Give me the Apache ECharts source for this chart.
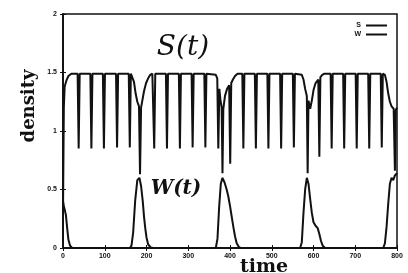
<!DOCTYPE html>
<html>
<head>
<meta charset="utf-8">
<script src="https://cdn.jsdelivr.net/npm/echarts@6/dist/echarts.min.js"></script>
<style>
  html, body { margin: 0; padding: 0; background: #fff; }
  #grafico { width: 408px; height: 273px; }
</style>
</head>
<body>
<div id="grafico"></div>
<script>
// eixos
const xTicks = [0, 100, 200, 300, 400, 500, 600, 700, 800]
const yTicks = [0, 0.5, 1, 1.5, 2]
const legendNames = ['S', 'W']

// S(t): patamar 1.5 com picos para baixo, vale em cada ciclo
const sCurve = [
  [0, 0.3], [2, 1.2], [4, 1.38], [8, 1.43], [13, 1.47], [20, 1.49],
  [35, 1.49], [37.5, 0.85], [40, 1.49],
  [65.5, 1.49], [68, 0.85], [70.5, 1.49],
  [95.5, 1.49], [98, 0.85], [100.5, 1.49],
  [127, 1.49], [129.5, 0.86], [132, 1.49],
  [157.5, 1.49], [160, 0.86], [162.5, 1.49],
  [166, 1.48], [170, 1.42], [174, 1.32], [178, 1.25], [182, 1.21],
  [184.5, 0.63], [187, 1.2], [190, 1.26], [194, 1.34], [199, 1.41], [204, 1.45], [209, 1.48], [214, 1.49],
  [216, 1.49], [218.5, 0.85], [221, 1.49],
  [246.5, 1.49], [249, 0.85], [251.5, 1.49],
  [277.5, 1.49], [280, 0.85], [282.5, 1.49],
  [308, 1.49], [310.5, 0.86], [313, 1.49],
  [338.5, 1.49], [341, 0.86], [343.5, 1.49],
  [366, 1.48], [369.5, 1.45], [372, 0.85], [374.5, 1.36], [377, 1.27], [380, 1.2],
  [382, 0.64], [384, 1.19], [388, 1.3], [393, 1.36],
  [398, 1.39], [400.5, 0.72], [403, 1.41], [407, 1.44], [412, 1.47], [418, 1.49],
  [429.5, 1.49], [432, 0.85], [434.5, 1.49],
  [459.5, 1.49], [462, 0.85], [464.5, 1.49],
  [489.5, 1.49], [492, 0.85], [494.5, 1.49],
  [520, 1.49], [522.5, 0.85], [525, 1.49],
  [550.5, 1.49], [553, 0.86], [555.5, 1.49],
  [572, 1.48], [576, 1.44], [580, 1.36], [584, 1.3],
  [586, 0.64], [588, 1.26], [592, 1.19], [596, 1.26], [600, 1.35], [605, 1.41],
  [611.5, 1.44], [614, 0.78], [616.5, 1.46], [621, 1.48], [626, 1.49],
  [641, 1.49], [643.5, 0.85], [646, 1.49],
  [671, 1.49], [673.5, 0.85], [676, 1.49],
  [701, 1.49], [703.5, 0.85], [706, 1.49],
  [731, 1.49], [733.5, 0.85], [736, 1.49],
  [761, 1.49], [763.5, 0.86], [766, 1.49],
  [771, 1.48], [775, 1.42], [779, 1.32], [783, 1.25], [787, 1.21], [792, 1.19],
  [795, 0.66], [797, 1.18], [800, 1.2]
]

// W(t): pulsos perto de cada vale de S
const wCurve = [
  [0, 0.4], [2, 0.36], [4, 0.33], [7, 0.28], [10, 0.17], [13, 0.07], [17, 0.02], [22, 0],
  [160, 0], [164, 0.02], [168, 0.13], [173, 0.41], [178, 0.58], [183, 0.6], [187, 0.53],
  [191, 0.4], [194, 0.27], [197, 0.17], [200, 0.09], [204, 0.03], [210, 0.005], [216, 0],
  [366, 0], [370, 0.08], [374, 0.35], [378, 0.55], [382, 0.6], [387, 0.56], [392, 0.5],
  [396, 0.44], [400, 0.36], [404, 0.27], [408, 0.18], [412, 0.1], [416, 0.04], [421, 0.01], [426, 0],
  [568, 0], [572, 0.05], [576, 0.3], [580, 0.5], [584, 0.6], [588, 0.55], [592, 0.42],
  [596, 0.3], [600, 0.22], [605, 0.19], [610, 0.17], [614, 0.12], [618, 0.06], [622, 0.02], [628, 0],
  [767, 0], [771, 0.04], [775, 0.18], [779, 0.38], [783, 0.55], [787, 0.6], [791, 0.58],
  [795, 0.62], [800, 0.64]
]

const ink = '#111'
const tickFont = { color: ink, fontSize: 7, fontWeight: 'bold', fontFamily: 'Liberation Sans' }

const chart = echarts.init(document.getElementById('grafico'), null, { renderer: 'canvas' })

chart.setOption({
  animation: false,
  backgroundColor: '#fff',
  grid: { left: 63, top: 14, width: 334, height: 234, show: true, borderColor: ink, borderWidth: 1.5 },
  // legenda: texto à esquerda, traço à direita
  legend: {
    data: legendNames,
    orient: 'vertical',
    align: 'right',
    icon: 'rect',
    right: 16,
    top: 17,
    itemWidth: 21,
    itemHeight: 2,
    itemGap: 2,
    itemStyle: { color: ink, borderWidth: 0 },
    textStyle: { color: ink, fontSize: 7, fontWeight: 'bold', fontFamily: 'Liberation Sans' }
  },
  xAxis: [
    {
      type: 'value', min: xTicks[0], max: xTicks[xTicks.length - 1], interval: 100,
      axisLine: { lineStyle: { color: ink, width: 1.5 } },
      axisTick: { inside: true, length: 3, lineStyle: { color: ink } },
      axisLabel: Object.assign({ margin: 5 }, tickFont),
      splitLine: { show: false }
    },
    {
      type: 'value', position: 'top', min: xTicks[0], max: xTicks[xTicks.length - 1], interval: 100,
      axisLine: { lineStyle: { color: ink, width: 1.5 } },
      axisTick: { inside: true, length: 3, lineStyle: { color: ink } },
      axisLabel: { show: false },
      splitLine: { show: false }
    }
  ],
  yAxis: [
    {
      type: 'value', min: yTicks[0], max: yTicks[yTicks.length - 1], interval: 0.5,
      axisLine: { show: true, lineStyle: { color: ink, width: 1.5 } },
      axisTick: { show: true, inside: true, length: 3, lineStyle: { color: ink } },
      axisLabel: Object.assign({ margin: 6 }, tickFont),
      splitLine: { show: false }
    },
    {
      type: 'value', position: 'right', min: yTicks[0], max: yTicks[yTicks.length - 1], interval: 0.5,
      axisLine: { show: true, lineStyle: { color: ink, width: 1.5 } },
      axisTick: { show: true, inside: true, length: 3, lineStyle: { color: ink } },
      axisLabel: { show: false },
      splitLine: { show: false }
    }
  ],
  series: [
    {
      name: legendNames[0], type: 'line', data: sCurve, symbol: 'none',
      lineStyle: { color: ink, width: 2 }, itemStyle: { color: ink }
    },
    {
      name: legendNames[1], type: 'line', data: wCurve, symbol: 'none',
      lineStyle: { color: ink, width: 2 }, itemStyle: { color: ink }
    }
  ],
  graphic: [
    { type: 'text', x: 183, y: 48, style: { text: 'S(t)', fill: ink, font: 'italic 28px "DejaVu Serif"', align: 'center', verticalAlign: 'middle' } },
    { type: 'text', x: 176, y: 189, style: { text: 'W(t)', fill: ink, font: 'italic bold 20px "DejaVu Serif"', align: 'center', verticalAlign: 'middle' } },
    { type: 'text', x: 29, y: 106, rotation: Math.PI / 2, style: { text: 'density', fill: ink, font: 'bold 18px "DejaVu Serif"', align: 'center', verticalAlign: 'middle' } },
    { type: 'text', x: 264, y: 277, style: { text: 'time', fill: ink, font: 'bold 19px "DejaVu Serif"', align: 'center', verticalAlign: 'bottom' } }
  ]
})
</script>
</body>
</html>
